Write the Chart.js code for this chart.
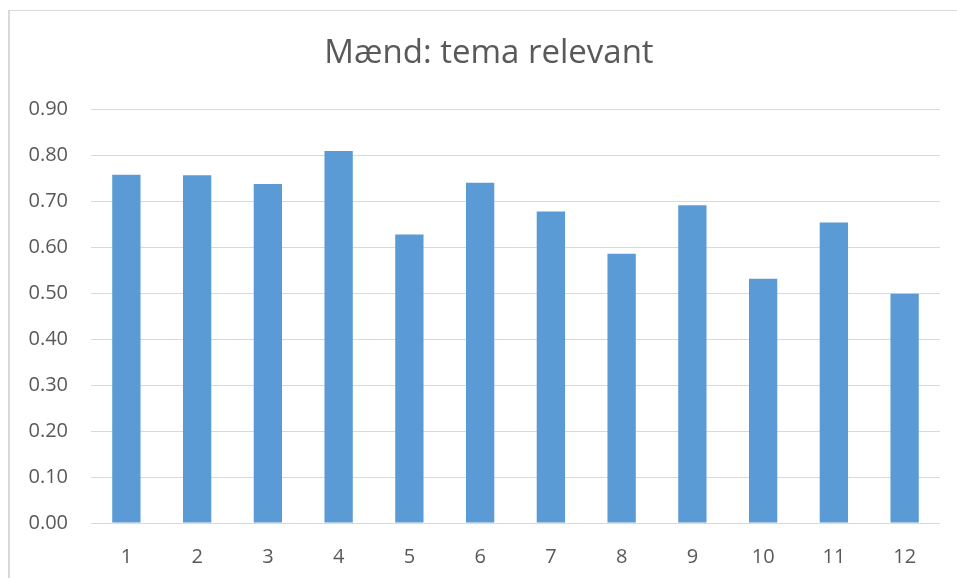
<!DOCTYPE html>
<html>
<head>
<meta charset="utf-8">
<script src="https://cdn.jsdelivr.net/npm/chart.js@4/dist/chart.umd.min.js"></script>
<style>
  html, body { margin: 0; padding: 0; background: #fff; overflow: hidden; }
  .frame { position: absolute; left: 8px; top: 10px; width: 1000px; height: 600px;
           border-left: 2px solid #d9d9d9; border-top: 1px solid #d9d9d9; }
  .wrap { position: absolute; left: 0; top: 0; width: 957px; height: 578px; }
</style>
</head>
<body>
<div class="frame"></div>
<div class="wrap"><canvas id="chart" width="957" height="578"></canvas></div>
<script>
const titleText = 'Mænd: tema relevant';
const categories = ['1', '2', '3', '4', '5', '6', '7', '8', '9', '10', '11', '12'];
const values = [0.758, 0.757, 0.738, 0.810, 0.628, 0.741, 0.678, 0.586, 0.692, 0.532, 0.654, 0.499];
const yTicks = [0, 0.1, 0.2, 0.3, 0.4, 0.5, 0.6, 0.7, 0.8, 0.9];

const font = '"Open Sans", "DejaVu Sans", sans-serif';

// the original title sits a bit right of the plot centre
const titleShift = {
  id: 'titleShift',
  afterLayout(chart) {
    if (chart.titleBlock) chart.titleBlock.left = 38;
  }
};

new Chart(document.getElementById('chart').getContext('2d'), {
  type: 'bar',
  data: {
    labels: categories,
    datasets: [{
      label: titleText,
      data: values,
      backgroundColor: '#5b9bd5',
      borderWidth: 0,
      categoryPercentage: 1,
      barPercentage: 0.4
    }]
  },
  options: {
    responsive: false,
    animation: false,
    layout: { padding: { left: 0, right: 17, top: 0, bottom: 0 } },
    plugins: {
      legend: { display: false },
      tooltip: { enabled: false },
      title: {
        display: true,
        text: titleText,
        color: '#595959',
        font: { family: font, size: 33, weight: 'normal' },
        padding: { top: 34, bottom: 36 }
      }
    },
    scales: {
      x: {
        grid: { display: false, drawTicks: false },
        border: { display: false },
        ticks: { color: '#595959', font: { family: font, size: 20 }, padding: 22 },
        afterFit: s => { s.height = 55; }
      },
      y: {
        min: 0,
        max: yTicks[yTicks.length - 1],
        afterBuildTicks: s => { s.ticks = yTicks.map(v => ({ value: v })); },
        grid: { color: '#d9d9d9', lineWidth: 1, drawTicks: false },
        border: { display: false },
        ticks: {
          color: '#595959',
          font: { family: font, size: 20 },
          padding: 23,
          callback: v => Number(v).toFixed(2)
        },
        afterFit: s => { s.width = 91; }
      }
    }
  },
  plugins: [titleShift]
});
</script>
</body>
</html>
